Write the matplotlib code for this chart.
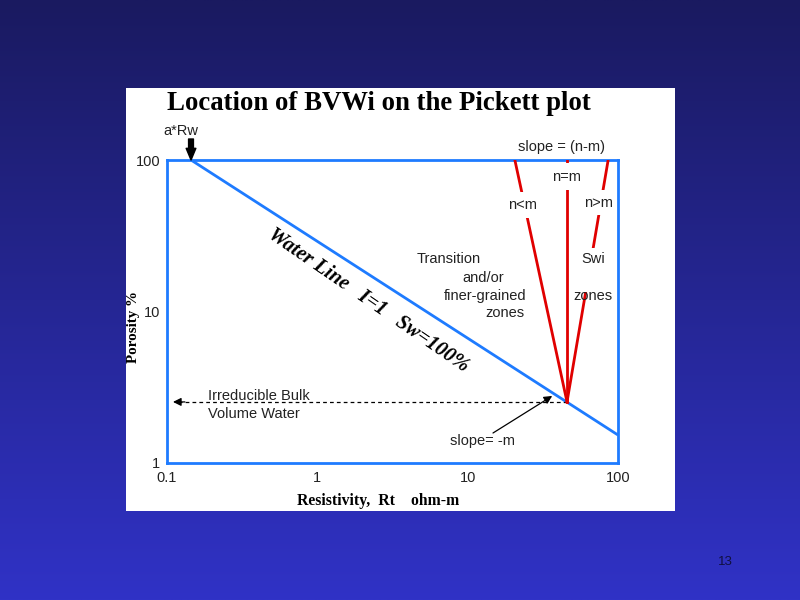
import numpy as np
import matplotlib
matplotlib.use("Agg")
import matplotlib.pyplot as plt
from matplotlib.patches import Rectangle

# ---- data ----
x_ticks = [0.1, 1, 10, 100]
x_tick_labels = ["0.1", "1", "10", "100"]
y_ticks = [1, 10, 100]
y_tick_labels = ["1", "10", "100"]

water_rt = [0.1445, 100.0]
water_phi = [100.0, 1.53]

bvwi_rt = 45.8
bvwi_phi = 2.53
dashed_end_rt = 0.1096

slope_top_rt = [20.6, 45.8, 86.0]   # n<m, n=m, n>m
slope_top_phi = 100.0

slope_m_tip = (36.5, 2.77)

title = "Location of BVWi on the Pickett plot"

W, H = 800, 600
def fx(px):
    return px / W
def fy(py):
    return 1 - py / H

fig = plt.figure(figsize=(8, 6), dpi=100)

# background gradient
bg = fig.add_axes([0, 0, 1, 1], zorder=-10)
top = np.array([26, 26, 96]) / 255
bot = np.array([48, 50, 198]) / 255
t = np.linspace(0, 1, 256)[:, None]
grad = top[None, None, :] * (1 - t[:, :, None]) + bot[None, None, :] * t[:, :, None]
grad = np.repeat(grad, 2, axis=1)
bg.imshow(grad, aspect="auto", extent=[0, 1, 0, 1], origin="upper")
bg.set_xlim(0, 1); bg.set_ylim(0, 1)
bg.axis("off")

# white panel
fig.patches.append(Rectangle((fx(126), fy(511)), fx(675) - fx(126), fy(88) - fy(511),
                             transform=fig.transFigure, facecolor="white",
                             edgecolor="none", zorder=-5))

sans = "Liberation Sans"
serif = "Liberation Serif"
blue = "#1e7bff"
red = "#e00000"

ax = fig.add_axes([fx(167), fy(463), fx(618) - fx(167), fy(160) - fy(463)])
ax.set_facecolor("none")
ax.set_xscale("log"); ax.set_yscale("log")
ax.set_xlim(0.1, 100); ax.set_ylim(1, 100)
ax.set_xticks(x_ticks); ax.set_xticklabels(x_tick_labels)
ax.set_yticks(y_ticks); ax.set_yticklabels(y_tick_labels)
ax.minorticks_off()
ax.tick_params(axis="x", length=0, labelsize=10.5, pad=6)
ax.tick_params(axis="y", length=0, labelsize=10.5, pad=5)
for lab in ax.get_xticklabels() + ax.get_yticklabels():
    lab.set_fontfamily(sans)
    lab.set_color("#222222")
for s in ax.spines.values():
    s.set_color(blue); s.set_linewidth(2)

# water line
ax.plot(water_rt, water_phi, color=blue, lw=2, solid_capstyle="butt", clip_on=False)

# slope lines
for r in slope_top_rt:
    ax.plot([bvwi_rt, r], [bvwi_phi, slope_top_phi], color=red, lw=2, zorder=3)

# white masks breaking the red lines behind their labels (pixel boxes: x0, x1, y0, y1)
masks = [(555, 579, 163, 190), (508, 540, 192, 218), (586, 613, 190, 215), (578, 608, 248, 292)]
for x0, x1, y0, y1 in masks:
    fig.patches.append(Rectangle((fx(x0), fy(y1)), fx(x1) - fx(x0), fy(y0) - fy(y1),
                                 transform=fig.transFigure, facecolor="white",
                                 edgecolor="none", zorder=2))

# dashed irreducible line
ax.plot([bvwi_rt, dashed_end_rt * 1.12], [bvwi_phi, bvwi_phi], color="black",
        lw=0.9, ls=(0, (3, 2.5)))
ax.annotate("", xy=(dashed_end_rt, bvwi_phi), xytext=(dashed_end_rt * 1.2, bvwi_phi),
            arrowprops=dict(arrowstyle="-|>", color="black", lw=0.9,
                            mutation_scale=12, shrinkA=0, shrinkB=0))

fs = 10.5
tk = dict(fontsize=fs, fontfamily=sans, color="#222222", transform=fig.transFigure,
          ha="center", va="center", zorder=5)

fig.text(fx(567), fy(177), "n=m", **tk)
fig.text(fx(523), fy(205), "n<m", **tk)
fig.text(fx(599), fy(203), "n>m", **tk)
fig.text(fx(593), fy(259), "Swi", **tk)
fig.text(fx(593), fy(296), "zones", **tk)
fig.text(fx(561), fy(147), "slope = (n-m)", **tk)

fig.text(fx(449), fy(259), "Transition", **tk)
fig.text(fx(483), fy(278), "and/or", **tk)
fig.text(fx(485), fy(296), "finer-grained", **tk)
fig.text(fx(505), fy(313), "zones", **tk)

fig.text(fx(208), fy(396), "Irreducible Bulk", fontsize=fs, fontfamily=sans,
         color="#222222", ha="left", va="center")
fig.text(fx(208), fy(414), "Volume Water", fontsize=fs, fontfamily=sans,
         color="#222222", ha="left", va="center")

fig.text(fx(482), fy(441), "slope= -m", **tk)
ax.annotate("", xy=slope_m_tip, xytext=(fx(493), fy(433)), textcoords="figure fraction",
            arrowprops=dict(arrowstyle="-|>", color="black", lw=0.9,
                            mutation_scale=12, shrinkA=0, shrinkB=0))

# a*Rw
fig.text(fx(181), fy(131), "a*Rw", **tk)
ax.annotate("", xy=(water_rt[0], water_phi[0]), xytext=(fx(191), fy(139)),
            textcoords="figure fraction", annotation_clip=False,
            arrowprops=dict(arrowstyle="simple,head_length=0.6,head_width=0.5,tail_width=0.25",
                            color="black", mutation_scale=14, shrinkA=0, shrinkB=0))

# water line text
fig.text(fx(368), fy(301), "Water Line   I=1   Sw=100%", fontsize=14.8,
         fontfamily=serif, fontweight="bold", fontstyle="italic", rotation=-34.5,
         rotation_mode="anchor", ha="center", va="center", color="black")

# title & axis labels
fig.text(fx(379), fy(103), title, fontsize=19.3, fontfamily=serif, fontweight="bold",
         ha="center", va="center", color="black")
fig.text(fx(134), fy(327), "Porosity %", fontsize=10.8, fontfamily=serif, fontweight="bold",
         rotation=90, ha="center", va="center", color="black")
fig.text(fx(378), fy(501), "Resistivity,  Rt    ohm-m", fontsize=11.3, fontfamily=serif,
         fontweight="bold", ha="center", va="center", color="black")

# page number
fig.text(fx(725), fy(562), "13", fontsize=9.5, fontfamily=sans, color="#101040",
         ha="center", va="center")

fig.savefig("out.png", dpi=100)
